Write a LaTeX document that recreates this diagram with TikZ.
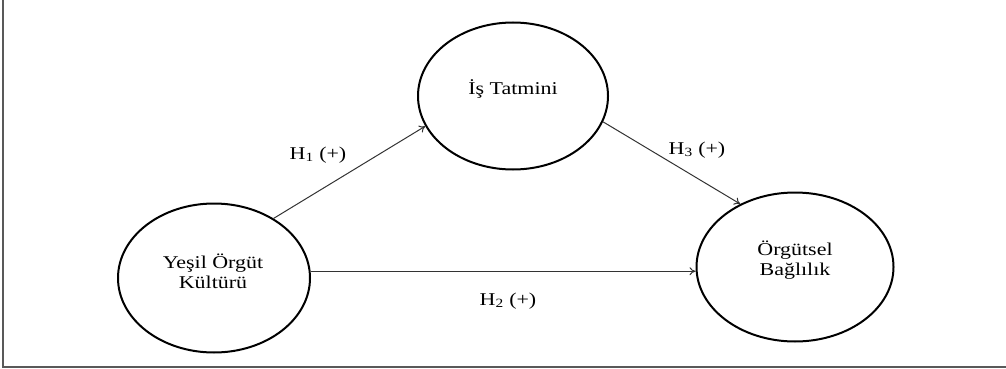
\documentclass[tikz,border=0pt]{standalone}
\usepackage{fontspec}
\setmainfont{Liberation Serif}[FakeStretch=1.22]
\usetikzlibrary{shapes.geometric,arrows.meta}
\tikzset{
  circ/.style={ellipse, draw=black, line width=2pt, inner sep=0pt},
  txt/.style={font=\fontsize{18pt}{20pt}\selectfont, align=center, inner sep=0pt, text=black},
  lbl/.style={font=\fontsize{18pt}{20pt}\selectfont, inner sep=0pt, text=black},
  conn/.style={draw=black!80, line width=1pt, -{To[length=6pt,width=8pt]}},
  frame/.style={draw=black!65, line width=1.4pt}
}
\begin{document}
\begin{tikzpicture}[x=1pt,y=-1pt]
\useasboundingbox (0,0) rectangle (1006,369);
\draw[frame] (3,-2) -- (3,367) -- (1008,367);
% nodes
\node[circ, minimum width=190pt, minimum height=147pt] (it) at (513,96) {};
\node[circ, minimum width=192pt, minimum height=149pt] (yok) at (214,278) {};
\node[circ, minimum width=197pt, minimum height=149pt] (ob) at (795,267) {};
\node[txt] (itT) at (513,89) {İş Tatmini};
\node[txt] (yokT) at (213,271) {Yeşil Örgüt\\Kültürü};
\node[txt] (obT) at (795,260) {Örgütsel\\Bağlılık};
% connectors
\draw[conn] (yok.45) -- (it.199);
\draw[conn] (it.344) -- (ob.131);
\draw[conn] (yok.4) -- (yok.4 -| ob.west);
% labels
\node[lbl] (h1) at (318,155) {H\textsubscript{1} (+)};
\node[lbl] (h3) at (697,150) {H\textsubscript{3} (+)};
\node[lbl] (h2) at (508,301) {H\textsubscript{2} (+)};
\end{tikzpicture}
\end{document}
